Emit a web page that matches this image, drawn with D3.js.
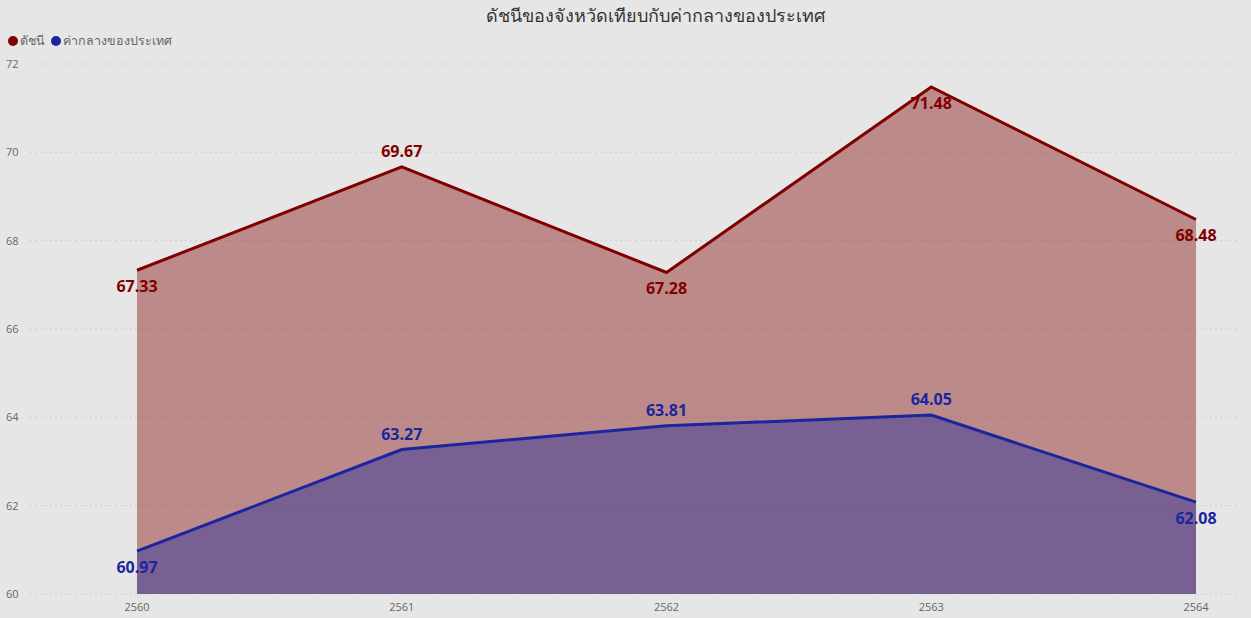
<!DOCTYPE html>
<html>
<head>
<meta charset="utf-8">
<script src="https://cdn.jsdelivr.net/npm/d3@7"></script>
<style>
  body { margin: 0; background: #e6e6e6; }
  text { font-family: "Open Sans", "Noto Sans", sans-serif; }
</style>
</head>
<body>
<div id="chart"></div>
<script>
var w = 1251;
var h = 618;

// chart data
var years = ['2560', '2561', '2562', '2563', '2564'];
var indexValues = [67.33, 69.67, 67.28, 71.48, 68.48];
var nationalValues = [60.97, 63.27, 63.81, 64.05, 62.08];
var yTicks = [60, 62, 64, 66, 68, 70, 72];
// label above (-1) or below (1) the point
var indexLabelPos = [1, -1, 1, 1, 1];
var nationalLabelPos = [1, -1, -1, -1, 1];

var svg = d3.select('#chart')
  .append('svg')
    .attr('width', w)
    .attr('height', h)
    .style('background', '#e6e6e6');

var x = d3.scalePoint()
  .domain(years)
  .range([137, 1196]);

var y = d3.scaleLinear()
  .domain([60, 72])
  .range([594, 64]);

// gridlines
svg.append('g')
  .selectAll('line')
  .data(yTicks)
  .enter()
  .append('line')
    .attr('x1', 30)
    .attr('x2', 1240)
    .attr('y1', function(d) { return y(d); })
    .attr('y2', function(d) { return y(d); })
    .style('stroke', '#cfcfcf')
    .style('stroke-dasharray', '2,3');

// y tick labels
svg.append('g')
  .selectAll('text')
  .data(yTicks)
  .enter()
  .append('text')
    .attr('x', 6)
    .attr('y', function(d) { return y(d) + 4; })
    .style('font-size', '11px')
    .style('fill', '#666')
    .text(function(d) { return d; });

// x tick labels
svg.append('g')
  .selectAll('text')
  .data(years)
  .enter()
  .append('text')
    .attr('x', function(d) { return x(d); })
    .attr('y', 611)
    .attr('text-anchor', 'middle')
    .style('font-size', '11px')
    .style('fill', '#666')
    .text(function(d) { return d; });

var series = [
  { name: 'ดัชนี', values: indexValues, pos: indexLabelPos, color: '#800000', fill: 'rgba(128,0,0,0.4)' },
  { name: 'ค่ากลางของประเทศ', values: nationalValues, pos: nationalLabelPos, color: '#1a25a0', fill: 'rgba(26,37,160,0.42)' }
];

var area = d3.area()
  .x(function(d, i) { return x(years[i]); })
  .y0(y(60))
  .y1(function(d) { return y(d); });

var line = d3.line()
  .x(function(d, i) { return x(years[i]); })
  .y(function(d) { return y(d); });

series.forEach(function(s) {
  svg.append('path')
    .datum(s.values)
    .attr('d', area)
    .style('fill', s.fill);
});

series.forEach(function(s) {
  svg.append('path')
    .datum(s.values)
    .attr('d', line)
    .style('fill', 'none')
    .style('stroke', s.color)
    .style('stroke-width', 3);
});

// data labels
series.forEach(function(s) {
  svg.append('g')
    .selectAll('text')
    .data(s.values)
    .enter()
    .append('text')
      .attr('x', function(d, i) { return x(years[i]); })
      .attr('y', function(d, i) { return y(d) + (s.pos[i] > 0 ? 22 : -10); })
      .attr('text-anchor', 'middle')
      .style('font-size', '16px')
      .style('font-weight', 'bold')
      .style('fill', s.color)
      .text(function(d) { return d.toFixed(2); });
});

// title
svg.append('text')
  .attr('x', 655)
  .attr('y', 22)
  .attr('text-anchor', 'middle')
  .style('font-size', '18px')
  .style('fill', '#333')
  .text('ดัชนีของจังหวัดเทียบกับค่ากลางของประเทศ');

// legend
var legend = svg.append('g');
var lx = 8;
series.forEach(function(s) {
  legend.append('circle')
    .attr('cx', lx + 5)
    .attr('cy', 41)
    .attr('r', 5)
    .style('fill', s.color);
  var t = legend.append('text')
    .attr('x', lx + 12)
    .attr('y', 45)
    .style('font-size', '12.5px')
    .style('fill', '#666')
    .text(s.name);
  lx += 12 + t.node().getComputedTextLength() + 6;
});
</script>
</body>
</html>
